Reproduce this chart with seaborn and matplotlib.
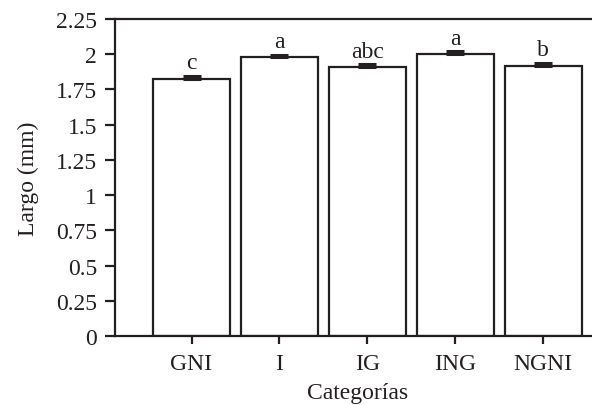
import matplotlib
matplotlib.use("Agg")
import matplotlib.pyplot as plt
import seaborn as sns
import numpy as np

categories = ["GNI", "I", "IG", "ING", "NGNI"]
largo = [1.824, 1.978, 1.907, 2.001, 1.918]
error = [0.022, 0.019, 0.021, 0.019, 0.020]
letters = ["c", "a", "abc", "a", "b"]
yticks = [0, 0.25, 0.5, 0.75, 1, 1.25, 1.5, 1.75, 2, 2.25]
ytick_labels = ["0", "0.25", "0.5", "0.75", "1", "1.25", "1.5", "1.75", "2", "2.25"]

sns.set_style("ticks")
plt.rcParams["font.family"] = ["Liberation Serif", "DejaVu Serif"]

ink = "#231f20"
fs = 17

fig = plt.figure(figsize=(5.92, 4.06), dpi=100)
ax = fig.add_axes([0.1943, 0.17, 0.82, 0.7807])

sns.barplot(x=categories, y=largo, color="white", saturation=1, edgecolor=ink,
            linewidth=1.6, width=0.87, errorbar=None, ax=ax, zorder=2)

x = np.arange(len(categories))
ax.errorbar(x, largo, yerr=[np.zeros(len(error)), error], fmt="none", ecolor=ink,
            elinewidth=2.2, capsize=6.2, capthick=2.2, zorder=3)

for xi, v, e, lab in zip(x, largo, error, letters):
    ax.annotate(lab, (xi, v + e), xytext=(0, 2), textcoords="offset points",
                ha="center", va="bottom", fontsize=fs, color=ink)

ax.set_ylim(0, 2.25)
ax.set_xlim(-0.87, 4.65)
ax.set_yticks(yticks)
ax.set_yticklabels(ytick_labels)

for side in ["left", "bottom", "top"]:
    ax.spines[side].set_color(ink)
    ax.spines[side].set_linewidth(1.6)
ax.spines["right"].set_visible(False)

ax.tick_params(axis="y", direction="out", length=7, width=1.6, color=ink,
               labelsize=fs, pad=6, labelcolor=ink)
ax.tick_params(axis="x", direction="out", length=6, width=1.6, color=ink,
               labelsize=fs, pad=6, labelcolor=ink)

ax.set_xlabel("Categorías", fontsize=fs, color=ink, labelpad=6)
ax.set_ylabel("Largo (mm)", fontsize=fs, color=ink, labelpad=12)

fig.savefig("out.png", dpi=100)
